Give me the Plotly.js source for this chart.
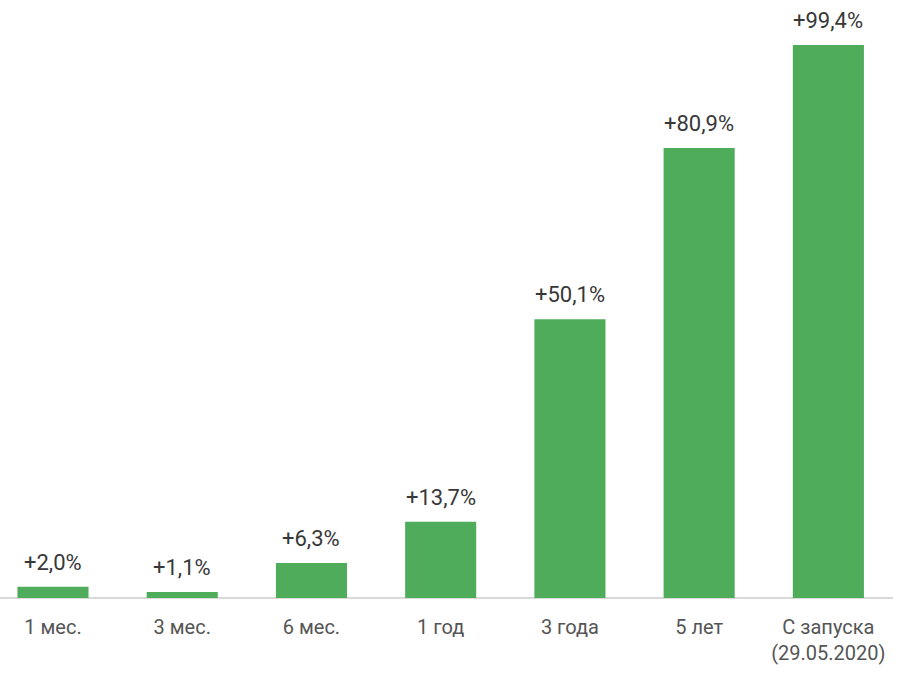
<!DOCTYPE html>
<html>
<head>
<meta charset="utf-8">
<script src="https://cdn.plot.ly/plotly-3.0.1.min.js"></script>
<style>
  html, body { margin: 0; padding: 0; background: #ffffff; }
  #chart { width: 905px; height: 683px; }
</style>
</head>
<body>
<div id="chart"></div>
<script>
// Доходность по периодам
const periods = ['1 мес.', '3 мес.', '6 мес.', '1 год', '3 года', '5 лет', 'С запуска<br>(29.05.2020)'];
const returns = [2.0, 1.1, 6.3, 13.7, 50.1, 80.9, 99.4];

function fmt(v) {
    return '+' + v.toFixed(1).replace('.', ',') + '%';
}

function createReturnsChart() {
    if (typeof Plotly === 'undefined') return;

    const trace = {
        x: periods,
        y: returns,
        type: 'bar',
        marker: { color: '#4eac5b' },
        hoverinfo: 'none'
    };

    const labels = periods.map((p, i) => ({
        x: p,
        y: returns[i],
        text: fmt(returns[i]),
        showarrow: false,
        yanchor: 'bottom',
        yshift: 10,
        font: { family: 'Roboto, Inter, sans-serif', size: 22, color: '#383838' }
    }));

    const layout = {
        width: 905,
        height: 683,
        margin: { l: 0, r: 12, t: 0, b: 85 },
        paper_bgcolor: '#ffffff',
        plot_bgcolor: '#ffffff',
        bargap: 0.45,
        showlegend: false,
        xaxis: {
            type: 'category',
            range: [-0.41, 6.5],
            showgrid: false,
            zeroline: false,
            showline: false,
            ticks: '',
            tickfont: { family: 'Roboto, Inter, sans-serif', size: 20, color: '#555555' },
            ticklabelstandoff: 15
        },
        yaxis: {
            range: [0, 107.5],
            showgrid: false,
            zeroline: true,
            zerolinecolor: '#d9d9d9',
            zerolinewidth: 2,
            showticklabels: false,
            ticks: ''
        },
        annotations: labels
    };

    try {
        Plotly.newPlot('chart', [trace], layout, { displayModeBar: false, staticPlot: true });
    } catch (error) {
        console.log('Error creating returns chart:', error);
    }
}

createReturnsChart();
</script>
</body>
</html>
